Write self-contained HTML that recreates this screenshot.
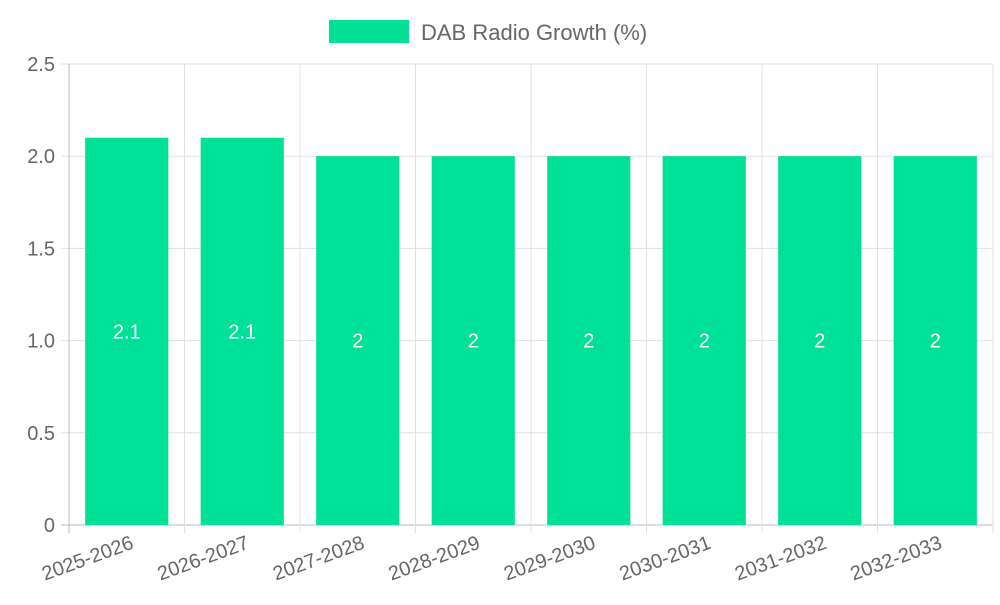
<!DOCTYPE html>
<html><head><meta charset="utf-8"><style>
body{margin:0;background:#fff;}
svg text{font-family:"Liberation Sans",Arial,sans-serif;}
</style></head><body>
<svg id="chart" width="1000" height="600" xmlns="http://www.w3.org/2000/svg">
<g id="legend">
<rect x="329" y="20" width="80" height="23" fill="#00E096"/>
<text x="421" y="40" font-size="22" fill="#666">DAB Radio Growth (%)</text>
</g>
<g id="grid"></g><g id="bars"></g><g id="axes"></g>
</svg>
<script>
const categories=["2025-2026","2026-2027","2027-2028","2028-2029","2029-2030","2030-2031","2031-2032","2032-2033"];
const values=[2.1,2.1,2,2,2,2,2,2];
const yTicks=[0,0.5,1.0,1.5,2.0,2.5];
const yTickLabels=["0","0.5","1.0","1.5","2.0","2.5"];
const NS="http://www.w3.org/2000/svg";
const L=69,R=993,T=64,B=525,yMax=2.5;
const bw=(R-L)/categories.length;
const y=v=>B-(v/yMax)*(B-T);
const x=i=>L+i*bw;
function mk(tag,attrs,parent,txt){const e=document.createElementNS(NS,tag);for(const k in attrs)e.setAttribute(k,attrs[k]);if(txt!==undefined)e.textContent=txt;document.getElementById(parent).appendChild(e);return e;}
yTicks.forEach((t,i)=>{
 const g=mk('line',{x1:L-8,x2:R,y1:y(t),y2:y(t),stroke:i==0?'#bbb':'#e0e0e0','stroke-width':1},'grid');
 
 
 const tx=mk('text',{x:L-14,y:y(t)+7,'text-anchor':'end','font-size':20,fill:'#666'},'axes',yTickLabels[i]);
 
 
});
for(let i=0;i<=categories.length;i++){
 const g=mk('line',{x1:x(i),x2:x(i),y1:T,y2:B+8,stroke:i==0?'#bbb':'#e0e0e0','stroke-width':1},'grid');
 
 
}
categories.forEach((c,i)=>{
 const bx=x(i)+bw*0.14,w=bw*0.72,top=y(values[i]);
 const r=mk('rect',{x:bx,y:top,width:w,height:B-top,fill:'#00E096'},'bars');
 
 
 const v=mk('text',{x:bx+w/2,y:(top+B)/2+7,'text-anchor':'middle','font-size':20,fill:'#fff'},'bars',String(values[i]));
 
 
 const cx=x(i)+bw/2+8;
 const t=mk('text',{x:cx,y:548,'text-anchor':'end','font-size':20,fill:'#666',transform:`rotate(-20 ${cx} 548)`},'axes',c);
 
 
});
</script>
</body></html>
